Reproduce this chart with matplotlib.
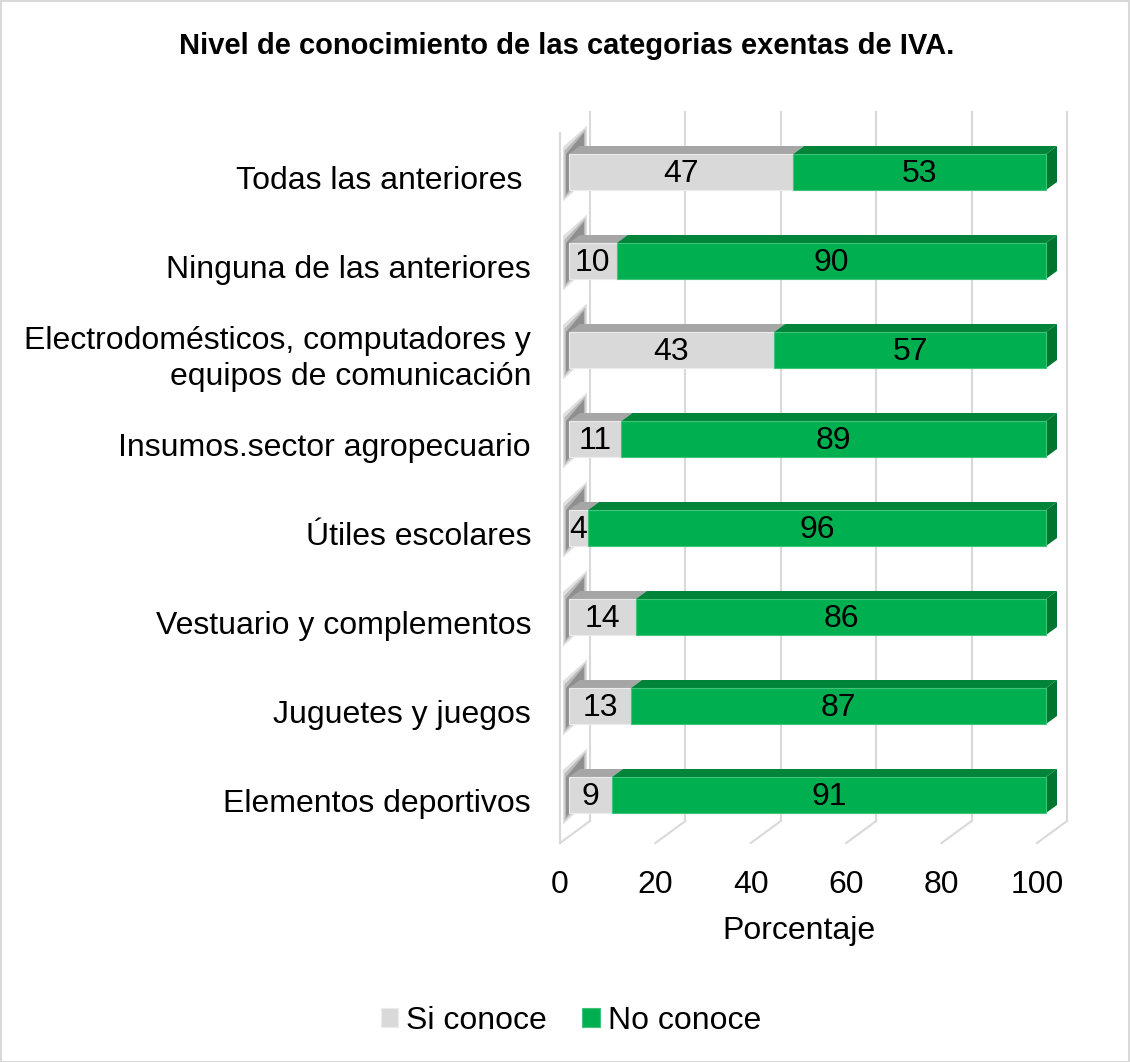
import matplotlib.pyplot as plt
from matplotlib.patches import Polygon, Rectangle
import numpy as np

plt.rcParams['font.family'] = ['Liberation Sans', 'DejaVu Sans']

categories = ['Todas las anteriores ', 'Ninguna de las anteriores',
              'Electrodomésticos, computadores y\nequipos de comunicación',
              'Insumos.sector agropecuario', 'Útiles escolares',
              'Vestuario y complementos', 'Juguetes y juegos',
              'Elementos deportivos']
si_conoce = [47, 10, 43, 11, 4, 14, 13, 9]
no_conoce = [53, 90, 57, 89, 96, 86, 87, 91]
x_ticks = [0, 20, 40, 60, 80, 100]

W, H = 1130, 1062
fig = plt.figure(figsize=(W / 100, H / 100), dpi=100)

# pixel geometry of the fake 3D box
PX_X = 4.77   # px per percent
PX_Y = 89.0   # px per category
x0_px, y0_px = 569, 172
ax_l, ax_r, ax_t, ax_b = 548, 1078, 100, 870
ax = fig.add_axes([ax_l / W, 1 - ax_b / H, (ax_r - ax_l) / W, (ax_b - ax_t) / H])
ax.set_xlim((ax_l - x0_px) / PX_X, (ax_r - x0_px) / PX_X)
ax.set_ylim((ax_b - y0_px) / PX_Y, (ax_t - y0_px) / PX_Y)
ax.axis('off')

def ux(px):
    return (px - x0_px) / PX_X

def uy(py):
    return (py - y0_px) / PX_Y

grid_c = '#d9d9d9'
back_off = ux(590)        # back wall offset of value 0
front_off = ux(560)       # front floor offset of value 0
wall_top, floor_back, floor_front = uy(112), uy(821), uy(843)

for v in x_ticks:
    ax.plot([v + back_off, v + back_off], [wall_top, floor_back], color=grid_c, lw=1.5, zorder=0)
    ax.plot([v + back_off, v + front_off], [floor_back, floor_front], color=grid_c, lw=1.5, zorder=0)
    ax.text(v + front_off, uy(885), str(v), ha='center', va='center', fontsize=23)
# left wall
ax.plot([front_off, front_off], [uy(133), floor_front], color=grid_c, lw=1.5, zorder=0)

ax.text(50 + front_off, uy(931), 'Porcentaje', ha='center', va='center', fontsize=23)

y = np.arange(len(categories))
h = 36 / PX_Y
ddx, ddy = 11 / PX_X, 8 / PX_Y

gray, gray_top = '#d9d9d9', '#a6a6a6'
green, green_top, green_side = '#00b050', '#00843a', '#007530'

b1 = ax.barh(y, si_conoce, height=h, color=gray, edgecolor='#ececec', lw=0.8, zorder=3, label='Si conoce')
b2 = ax.barh(y, no_conoce, left=si_conoce, height=h, color=green, edgecolor='#40c47a', lw=0.8, zorder=3, label='No conoce')

for i in range(len(categories)):
    top = i - h / 2
    bot = i + h / 2
    s, n = si_conoce[i], no_conoce[i]
    # soft shadow on the left wall, layered to fake a blur
    for k, a in enumerate([0.15, 0.22, 0.3]):
        g = k * 0.04
        ax.add_patch(Polygon([(ux(563) + g * 8, bot + 0.13 - g), (ux(587) - g * 8, bot - 0.12 - g),
                              (ux(587) - g * 8, top - 0.32 + g), (ux(563) + g * 8, top - 0.08 + g)],
                             closed=True, color='#303030', alpha=a, lw=0, zorder=1))
    # top faces
    ax.add_patch(Polygon([(0, top), (s, top), (s + ddx, top - ddy), (ddx, top - ddy)],
                         closed=True, color=gray_top, lw=0, zorder=2))
    ax.add_patch(Polygon([(s, top), (s + n, top), (s + n + ddx, top - ddy), (s + ddx, top - ddy)],
                         closed=True, color=green_top, lw=0, zorder=2))
    # right side face
    r = s + n
    ax.add_patch(Polygon([(r, top), (r, bot), (r + ddx, bot - ddy), (r + ddx, top - ddy)],
                         closed=True, color=green_side, lw=0, zorder=2))
    ax.text(s / 2, i + 0.02, str(s), ha='center', va='center', fontsize=23, zorder=4)
    ax.text(s + n / 2, i + 0.02, str(n), ha='center', va='center', fontsize=23, zorder=4)
    ax.text(ux(531), i + 0.1, categories[i], ha='right', va='center', fontsize=23, linespacing=1.27)

fig.text(567 / W, 1 - 46 / H, 'Nivel de conocimiento de las categorias exentas de IVA.',
         ha='center', va='center', fontsize=21, fontweight='bold')

fig.legend(handles=[b1, b2], loc='center', bbox_to_anchor=(571 / W, 1 - 1021 / H), ncol=2,
           frameon=False, fontsize=23, handlelength=0.55, handleheight=0.55,
           handletextpad=0.25, columnspacing=1.1)

fig.patches.append(Rectangle((0.5 / W, 0.5 / H), 1 - 1.5 / W, 1 - 1.5 / H, transform=fig.transFigure,
                             fill=False, edgecolor='#d9d9d9', lw=1.5))

fig.savefig('out.png', dpi=100)
